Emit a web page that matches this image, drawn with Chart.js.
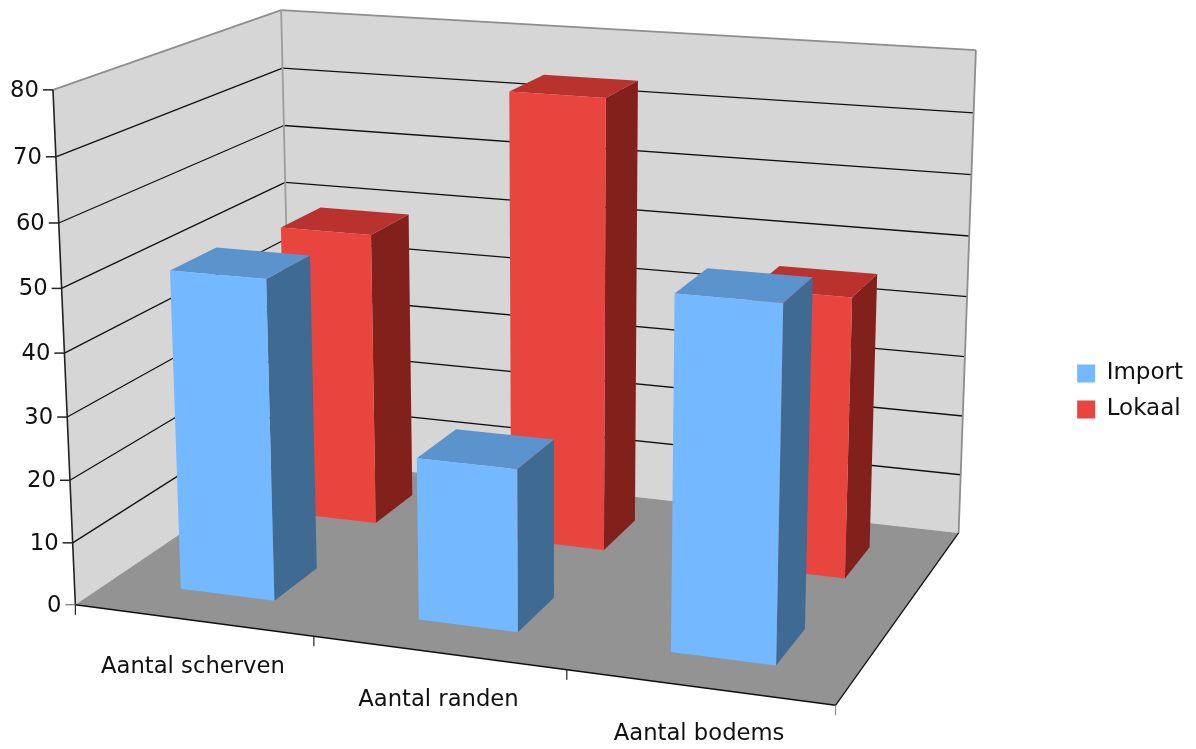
<!DOCTYPE html>
<html>
<head>
<meta charset="utf-8">
<title>Aantal scherven, randen en bodems</title>
<script src="https://cdn.jsdelivr.net/npm/chart.js@4/dist/chart.umd.min.js"></script>
<style>
    html, body { margin: 0; padding: 0; background: #fff; }
    #wrap { width: 1196px; height: 749px; }
</style>
</head>
<body>
<div id="wrap"><canvas id="chart" width="1196" height="749"></canvas></div>
<script>
// Data
const categories = ['Aantal scherven', 'Aantal randen', 'Aantal bodems'];
const importValues = [51, 25.5, 54.3];
const lokaalValues = [49, 74, 45.5];
const yMax = 80;
const yStep = 10;

// Colours per row: front, top, side
const importColors = ['#74B8FF', '#5B94CC', '#3F6A92'];
const lokaalColors = ['#E8453F', '#B9322E', '#82201B'];

const FONT = '22.7px "DejaVu Sans"';
const DEPTH_FILL = 0.4; // share of a row taken by the bar, front to back

// Where the box of the 3D plot lands on the page: [u, v, w, px, py]
// u = along categories, v = up the value axis, w = into the picture
const anchors = [
    [0, 0, 0, 75, 604], [0, 1, 0, 53, 92],
    [0, 0, 1, 292, 460], [0, 1, 1, 281, 9],
    [1, 0, 1, 958, 532], [1, 1, 1, 976, 50],
    [1, 0, 0, 836, 706],
    [1 / 3, 0, 0, 314, 636], [2 / 3, 0, 0, 567, 670],
    [0, 0.5, 0, 64, 351], [1, 0.5, 1, 967, 297], [0, 0.5, 1, 287, 239]
];

// Least squares fit of the 3x4 camera matrix (last element = 1)
function fitCamera(points) {
    const n = 11;
    const A = Array.from({ length: n }, () => new Array(n + 1).fill(0));
    const addRow = (row, rhs) => {
        for (let i = 0; i < n; i++) {
            for (let j = 0; j < n; j++) A[i][j] += row[i] * row[j];
            A[i][n] += row[i] * rhs;
        }
    };
    points.forEach(([u, v, w, x, y]) => {
        addRow([u, v, w, 1, 0, 0, 0, 0, -x * u, -x * v, -x * w], x);
        addRow([0, 0, 0, 0, u, v, w, 1, -y * u, -y * v, -y * w], y);
    });
    for (let c = 0; c < n; c++) {
        let best = c;
        for (let r = c + 1; r < n; r++) if (Math.abs(A[r][c]) > Math.abs(A[best][c])) best = r;
        [A[c], A[best]] = [A[best], A[c]];
        for (let r = 0; r < n; r++) {
            if (r === c) continue;
            const f = A[r][c] / A[c][c];
            for (let k = c; k <= n; k++) A[r][k] -= f * A[c][k];
        }
    }
    return A.map((row, i) => row[n] / row[i]);
}

const cam = fitCamera(anchors);

function project(u, v, w) {
    const d = cam[8] * u + cam[9] * v + cam[10] * w + 1;
    return [
        (cam[0] * u + cam[1] * v + cam[2] * w + cam[3]) / d,
        (cam[4] * u + cam[5] * v + cam[6] * w + cam[7]) / d
    ];
}

function poly(ctx, pts, fill) {
    ctx.beginPath();
    pts.forEach((p, i) => {
        const q = project(p[0], p[1], p[2]);
        if (i === 0) ctx.moveTo(q[0], q[1]); else ctx.lineTo(q[0], q[1]);
    });
    ctx.closePath();
    ctx.fillStyle = fill;
    ctx.fill();
}

function line(ctx, a, b, color, width) {
    const p = project(a[0], a[1], a[2]);
    const q = project(b[0], b[1], b[2]);
    ctx.beginPath();
    ctx.moveTo(p[0], p[1]);
    ctx.lineTo(q[0], q[1]);
    ctx.strokeStyle = color;
    ctx.lineWidth = width;
    ctx.stroke();
}

// Replaces the flat bars: takes the bar elements Chart.js laid out and draws them as boxes
const box3d = {
    id: 'box3d',
    beforeDatasetsDraw(chart) {
        const ctx = chart.ctx;
        const area = chart.chartArea;
        const xs = chart.scales.x;
        const ys = chart.scales.y;
        const toU = px => (px - area.left) / area.width;
        const toV = py => (area.bottom - py) / area.height;

        ctx.save();
        ctx.lineCap = 'butt';

        // walls and floor
        poly(ctx, [[0, 0, 0], [0, 1, 0], [0, 1, 1], [0, 0, 1]], '#D6D6D6');
        poly(ctx, [[0, 0, 1], [0, 1, 1], [1, 1, 1], [1, 0, 1]], '#D6D6D6');
        poly(ctx, [[0, 0, 0], [0, 0, 1], [1, 0, 1], [1, 0, 0]], '#939393');

        // gridlines follow the y scale
        ys.ticks.forEach(t => {
            const v = toV(ys.getPixelForValue(t.value));
            if (t.value > ys.min && t.value < ys.max) {
                line(ctx, [0, v, 0], [0, v, 1], '#111', 1.3);
                line(ctx, [0, v, 1], [1, v, 1], '#111', 1.3);
            }
        });

        // wall edges
        line(ctx, [0, 1, 0], [0, 1, 1], '#8E8E8E', 1.8);
        line(ctx, [0, 1, 1], [1, 1, 1], '#8E8E8E', 1.8);
        line(ctx, [0, 1, 1], [0, 0, 1], '#9C9C9C', 1.8);
        line(ctx, [1, 1, 1], [1, 0, 1], '#8E8E8E', 1.8);

        // floor edges and axes
        line(ctx, [0, 0, 0], [1, 0, 0], '#111', 1.6);
        line(ctx, [1, 0, 0], [1, 0, 1], '#111', 1.3);
        line(ctx, [0, 0, 0], [0, 1, 0], '#222', 1.6);

        // back row first, so the front row covers it
        const rows = chart.data.datasets.length;
        for (let d = rows - 1; d >= 0; d--) {
            const colors = d === 0 ? importColors : lokaalColors;
            const w0 = (d + (1 - DEPTH_FILL) / 2) / rows;
            const w1 = w0 + DEPTH_FILL / rows;
            chart.getDatasetMeta(d).data.forEach(bar => {
                const u0 = toU(bar.x - bar.width / 2);
                const u1 = toU(bar.x + bar.width / 2);
                const top = toV(bar.y);
                const bot = toV(bar.base);
                poly(ctx, [[u1, bot, w0], [u1, top, w0], [u1, top, w1], [u1, bot, w1]], colors[2]);
                poly(ctx, [[u0, top, w0], [u0, top, w1], [u1, top, w1], [u1, top, w0]], colors[1]);
                poly(ctx, [[u0, bot, w0], [u0, top, w0], [u1, top, w0], [u1, bot, w0]], colors[0]);
            });
        }

        // y axis ticks and labels on the front edge of the left wall
        ctx.font = FONT;
        ctx.fillStyle = '#111';
        ctx.textAlign = 'right';
        ctx.textBaseline = 'middle';
        ys.ticks.forEach(t => {
            const p = project(0, toV(ys.getPixelForValue(t.value)), 0);
            ctx.beginPath();
            ctx.moveTo(p[0] - 10, p[1]);
            ctx.lineTo(p[0], p[1]);
            ctx.strokeStyle = t.value === 0 ? '#8E8E8E' : '#222';
            ctx.lineWidth = 1.5;
            ctx.stroke();
            ctx.fillText(String(t.value), p[0] - 14, p[1] + 1);
        });

        // category ticks and labels along the front edge of the floor
        categories.forEach((label, i) => {
            const p = project(toU(xs.getPixelForValue(i)), 0, 0);
            ctx.textAlign = 'center';
            ctx.fillText(label, p[0], p[1] + 47);
        });
        for (let i = 0; i <= categories.length; i++) {
            const p = project(toU(xs.getPixelForValue(i - 0.5)), 0, 0);
            ctx.beginPath();
            ctx.moveTo(p[0], p[1]);
            ctx.lineTo(p[0], p[1] + 10);
            ctx.strokeStyle = i === categories.length ? '#8E8E8E' : '#222';
            ctx.lineWidth = 1.2;
            ctx.stroke();
        }

        ctx.restore();
        return false; // no flat bars
    }
};

new Chart(document.getElementById('chart'), {
    type: 'bar',
    data: {
        labels: categories,
        datasets: [
            { label: 'Import', data: importValues, backgroundColor: importColors[0], borderWidth: 0 },
            { label: 'Lokaal', data: lokaalValues, backgroundColor: lokaalColors[0], borderWidth: 0 }
        ]
    },
    options: {
        responsive: false,
        animation: false,
        layout: { padding: { top: 34, right: 3 } },
        datasets: { bar: { grouped: false, categoryPercentage: 1, barPercentage: 0.4 } },
        plugins: {
            title: { display: false },
            tooltip: { enabled: false },
            legend: {
                position: 'right',
                labels: { boxWidth: 18, boxHeight: 18, padding: 13, color: '#111', font: { family: 'DejaVu Sans', size: 23 } }
            }
        },
        scales: {
            x: { display: false },
            y: { display: false, min: 0, max: yMax, ticks: { stepSize: yStep } }
        }
    },
    plugins: [box3d]
});
</script>
</body>
</html>
